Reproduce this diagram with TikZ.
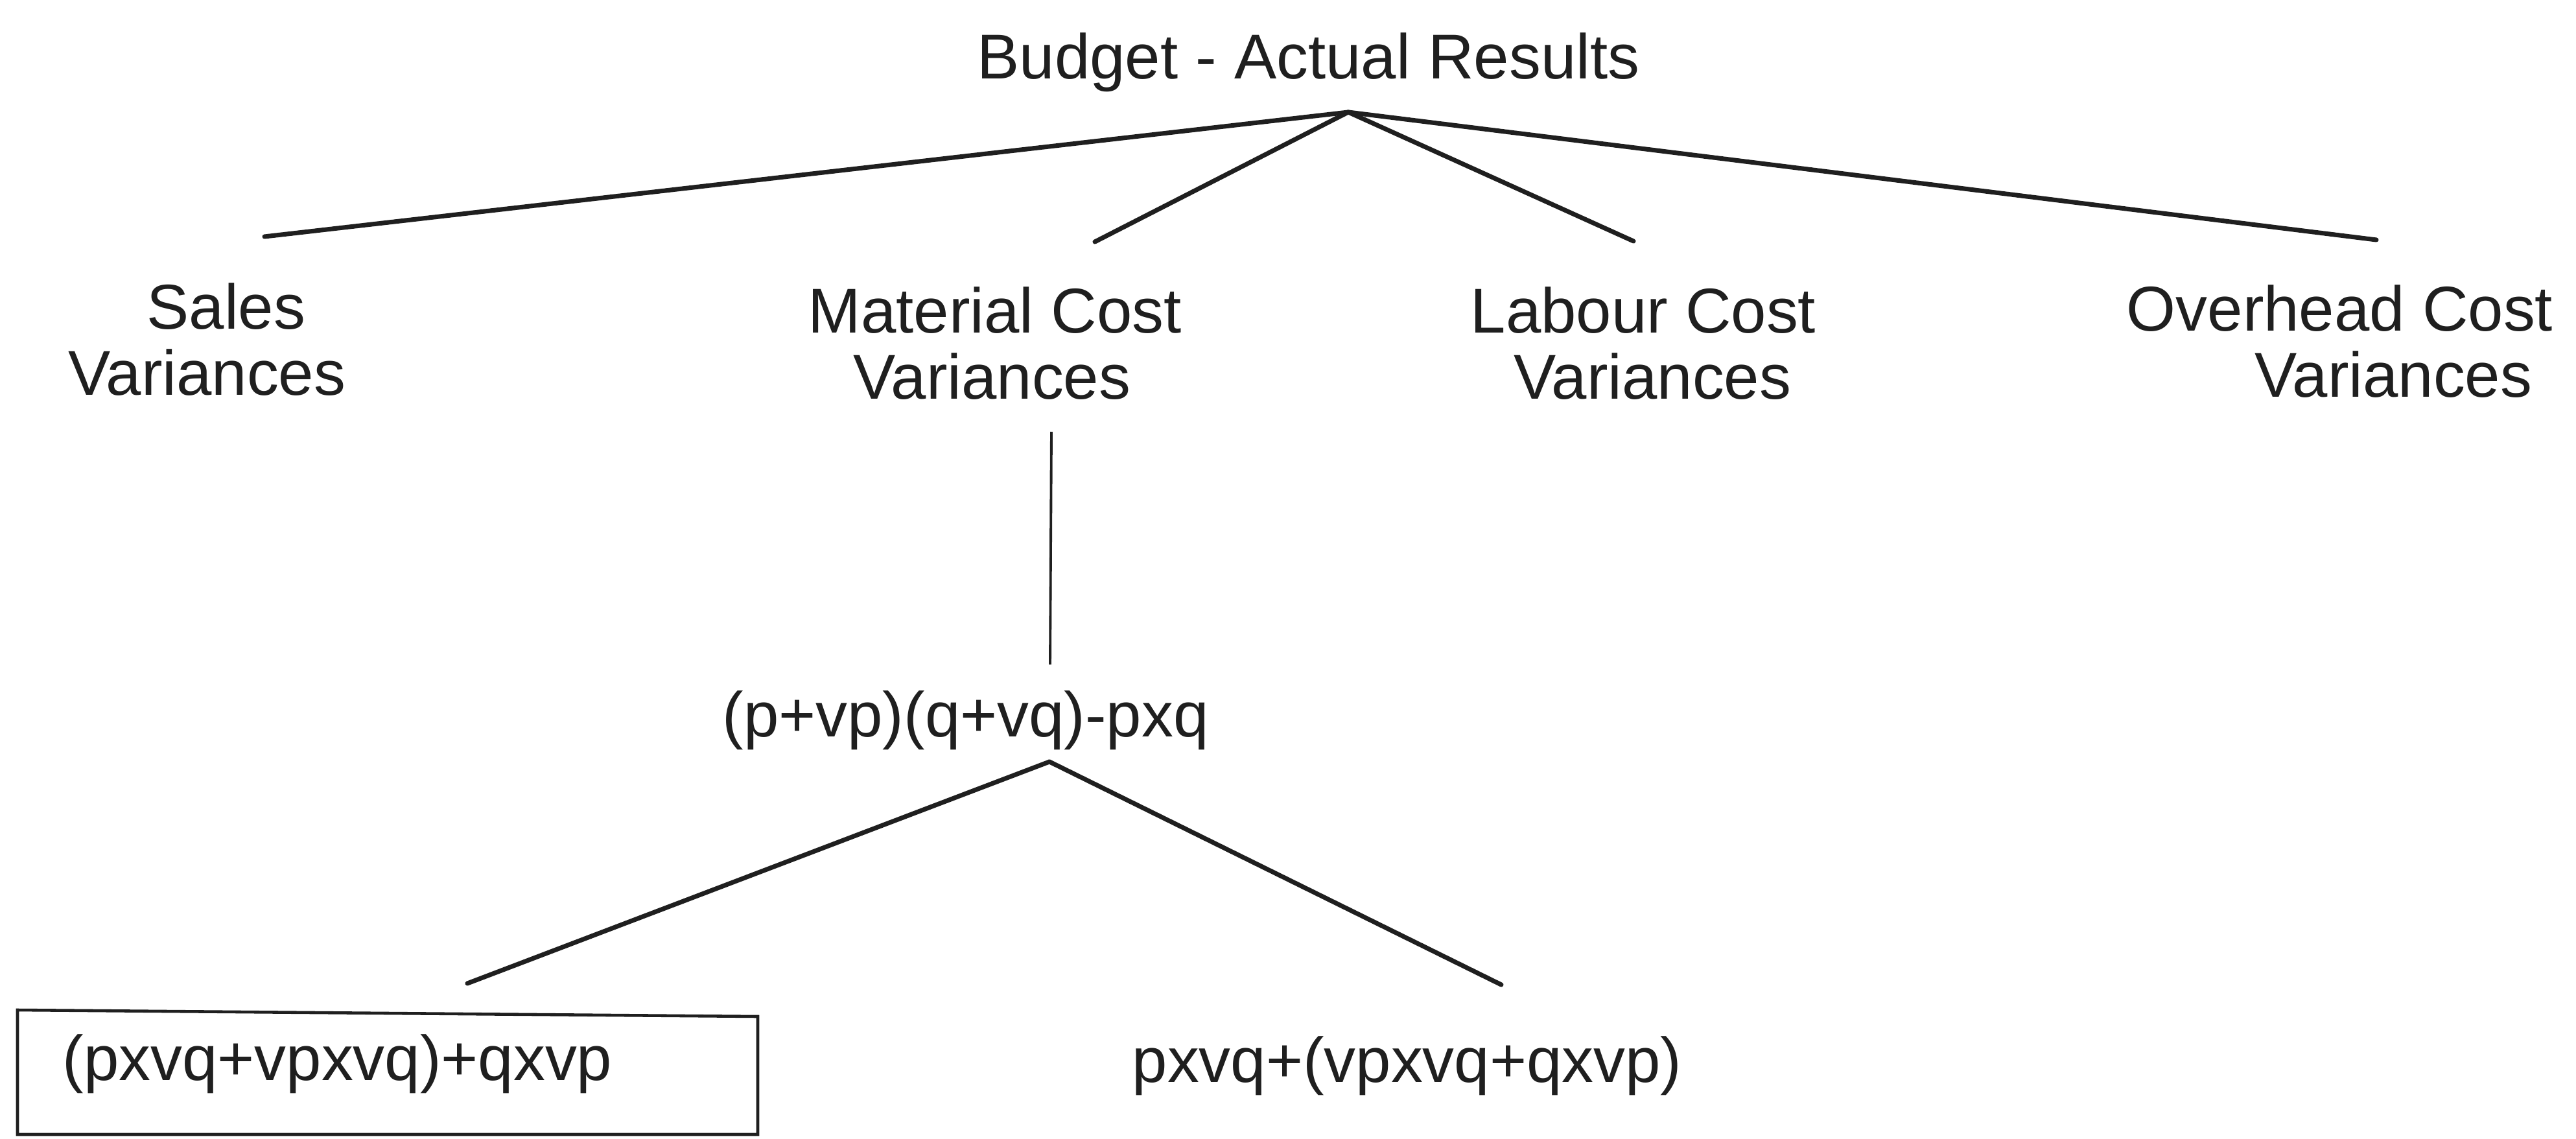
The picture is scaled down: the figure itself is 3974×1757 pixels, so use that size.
\documentclass[tikz,border=0pt]{standalone}
\usepackage{fontspec}
\setmainfont{Liberation Sans}
\begin{document}
\begin{tikzpicture}[x=0.01cm,y=-0.01cm,
  lbl/.style={anchor=base west, inner sep=0pt, font=\fontsize{27.8}{30}\selectfont, text=black!88},
  branch/.style={line width=2pt, line cap=round, draw=black!88},
  stem/.style={line width=1.1pt, draw=black!88},
  frame/.style={line width=1.3pt, draw=black!88}]
\useasboundingbox[fill=white] (0,0) rectangle (3974,1757);

% root
\node[lbl] (title) at (1507,121) {Budget - Actual Results};
\coordinate (apex) at (2080,173);

% first level labels
\node[lbl] (salesA) at (226,507) {Sales};
\node[lbl] (salesB) at (105,609) {Variances};
\node[lbl] (matA) at (1246,513) {Material Cost};
\node[lbl] (matB) at (1316,615) {Variances};
\node[lbl] (labA) at (2268,513) {Labour Cost};
\node[lbl] (labB) at (2335,615) {Variances};
\node[lbl] (ovhA) at (3280,510) {Overhead Cost};
\node[lbl] (ovhB) at (3478,612) {Variances};

% branch tips above the labels
\coordinate (tipSales) at (408,365);
\coordinate (tipMat) at (1689,373);
\coordinate (tipLab) at (2520,372);
\coordinate (tipOvh) at (3666,370);

\draw[branch] (apex) -- (tipSales);
\draw[branch] (apex) -- (tipMat);
\draw[branch] (apex) -- (tipLab);
\draw[branch] (apex) -- (tipOvh);

% material cost breakdown
\coordinate (stemTop) at (1622,666);
\coordinate (stemBot) at (1620,1025);
\draw[stem] (stemTop) -- (stemBot);
\node[lbl] (formula) at (1114,1136) {(p+vp)(q+vq)-pxq};

\coordinate (apex2) at (1619,1175);
\coordinate (tipLeft) at (721,1517);
\coordinate (tipRight) at (2316,1519);
\draw[branch] (apex2) -- (tipLeft);
\draw[branch] (apex2) -- (tipRight);

\node[lbl] (leftForm) at (96,1666) {(pxvq+vpxvq)+qxvp};
\node[lbl] (rightForm) at (1746,1669) {pxvq+(vpxvq+qxvp)};

% box round the left-hand decomposition
\coordinate (bx1) at (27,1558);
\coordinate (bx2) at (1169,1568);
\coordinate (bx3) at (1169,1750);
\coordinate (bx4) at (27,1750);
\draw[frame] (bx1) -- (bx2) -- (bx3) -- (bx4) -- cycle;
\end{tikzpicture}
\end{document}
